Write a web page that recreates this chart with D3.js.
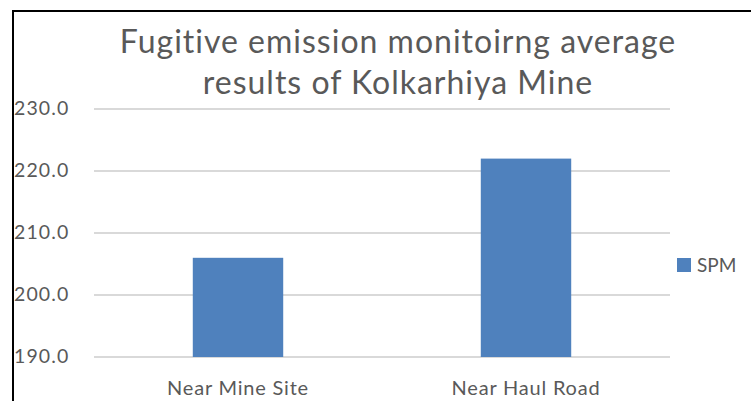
<!DOCTYPE html>
<html><head><meta charset="utf-8">
<script src="https://cdn.jsdelivr.net/npm/d3@7"></script>
<style>body{margin:0;background:#fff}svg{display:block}text{font-family:Lato,"Open Sans",sans-serif;fill:#595959}</style>
</head><body><svg id="c" width="751" height="401"></svg>
<script>
const categories = ["Near Mine Site", "Near Haul Road"];
const spmValues = [206, 222];
const yTicks = [190, 200, 210, 220, 230];
const seriesName = "SPM";
const titleLines = ["Fugitive emission monitoirng average", "results of Kolkarhiya Mine"];

const svg = d3.select("#c");
const m = {left: 94, right: 670, top: 109, bottom: 357};
const x = d3.scaleBand().domain(categories).range([m.left, m.right]).paddingInner(0.686).paddingOuter(0.343);
const y = d3.scaleLinear().domain([190, 230]).range([m.bottom, m.top]);

// border
svg.append("path").attr("d", "M13,401 V11 H751").attr("fill", "none").attr("stroke", "#000").attr("stroke-width", 2);

// gridlines
svg.append("g").selectAll("line").data(yTicks).join("line")
  .attr("x1", m.left).attr("x2", m.right)
  .attr("y1", d => y(d)).attr("y2", d => y(d))
  .attr("stroke", "#d9d9d9").attr("stroke-width", 2);

// y labels
svg.append("g").selectAll("text").data(yTicks).join("text")
  .attr("x", 14).attr("y", d => y(d) + 6)
  .attr("font-size", 19.5).attr("letter-spacing", 1.1).text(d => d.toFixed(1));

// bars
svg.append("g").selectAll("rect").data(categories).join("rect")
  .attr("x", d => x(d)).attr("width", x.bandwidth())
  .attr("y", (d, i) => y(spmValues[i])).attr("height", (d, i) => y(190) - y(spmValues[i]))
  .attr("fill", "#4f81bd");

// x labels
svg.append("g").selectAll("text").data(categories).join("text")
  .attr("x", d => x(d) + x.bandwidth() / 2).attr("y", 395)
  .attr("text-anchor", "middle").attr("font-size", 20).attr("letter-spacing", 0.8).text(d => d);

// title
svg.append("g").selectAll("text").data(titleLines).join("text")
  .attr("x", 398).attr("y", (d, i) => 53 + i * 41)
  .attr("text-anchor", "middle").attr("font-size", 32).attr("letter-spacing", 1).text(d => d);

// legend
svg.append("rect").attr("x", 677).attr("y", 258).attr("width", 14).attr("height", 14).attr("fill", "#4f81bd");
svg.append("text").attr("x", 697).attr("y", 272).attr("font-size", 19).text(seriesName);
</script></body></html>
